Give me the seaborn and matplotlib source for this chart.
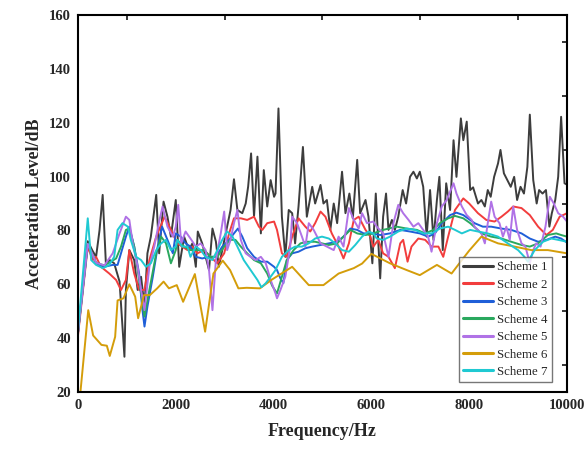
import pandas as pd
import matplotlib
matplotlib.use("Agg")
import matplotlib.pyplot as plt
import seaborn as sns
from matplotlib.ticker import MultipleLocator

sns.set_theme(style="white")
plt.rcParams['font.family'] = ['Liberation Serif', 'DejaVu Serif']

# --- data (Hz, dB) ---
f1 = [0, 100, 200, 290, 370, 440, 505, 570, 650, 740, 850, 950, 980, 1050, 1150, 1220, 1290,
      1360, 1420, 1490, 1600, 1660, 1750, 1830, 1900, 2000, 2070, 2170, 2270, 2340, 2410, 2450,
      2540, 2610, 2680, 2750, 2820, 2880, 2950, 3050, 3120, 3190, 3260, 3360, 3430, 3480, 3540,
      3600, 3670, 3740, 3800, 3870, 3940, 4010, 4040, 4100, 4170, 4240, 4310, 4380, 4440, 4510,
      4600, 4680, 4790, 4850, 4960, 5020, 5090, 5160, 5230, 5300, 5400, 5470, 5550, 5620, 5710,
      5770, 5880, 5940, 6020, 6090, 6180, 6240, 6300, 6350, 6420, 6480, 6550, 6640, 6710, 6790,
      6860, 6930, 6990, 7060, 7130, 7200, 7270, 7340, 7390, 7460, 7530, 7610, 7680, 7740, 7830,
      7880, 7950, 8020, 8080, 8180, 8250, 8320, 8380, 8440, 8510, 8590, 8640, 8710, 8780, 8850,
      8920, 8980, 9050, 9120, 9190, 9240, 9310, 9380, 9430, 9500, 9570, 9640, 9690, 9760, 9820,
      9880, 9950, 10000]
s1 = [42, 60, 76, 72.7, 70.2, 80, 93.2, 67.9, 69, 67.8, 61, 33.1, 57.9, 72.7, 69, 57.9, 62.8,
      51.7, 71.5, 77.7, 93.2, 71.5, 90.7, 85.1, 77.7, 91.3, 66.5, 77.7, 72.7, 75.2, 66.5, 79.6,
      75.2, 70.2, 65.3, 80.7, 75.9, 66.5, 72.7, 81.4, 87.6, 99, 87.6, 86.4, 90, 96.3, 108.6,
      85.1, 107.4, 78.9, 102.4, 88.9, 98.7, 92.5, 93.7, 125.3, 85.1, 70.2, 87.6, 86.4, 75.2, 88.9,
      111, 85.1, 96.2, 90, 96.9, 90, 91.3, 80.2, 90, 82.7, 101.8, 86.4, 93.7, 84.5, 106.2,
      86.4, 91.3, 85.1, 67.8, 93.7, 62.2, 85.1, 93.7, 80.2, 83.9, 80.2, 85.1, 95, 90, 99.9,
      101.8, 99.3, 101.8, 96.2, 77.7, 95, 76.5, 91.3, 99.9, 72.7, 97.5, 87.6, 113.5, 99.9, 121.6,
      113.5, 120.4, 95, 96, 90, 91.3, 88.9, 95, 92.5, 99.9, 104.9, 109.9, 101.2, 98.7, 96.2,
      99.9, 91.3, 96.2, 93.7, 103.6, 123, 98.7, 90, 95, 93.7, 95, 81.4, 86.4, 91.3, 99.9,
      122.2, 97.5, 97]

f2 = [0, 200, 300, 370, 470, 640, 780, 880, 980, 1050, 1150, 1250, 1360, 1460, 1600, 1770,
      1870, 2030, 2130, 2240, 2340, 2440, 2580, 2710, 2850, 2990, 3090, 3190, 3330, 3460, 3600,
      3700, 3770, 3870, 4010, 4070, 4170, 4270, 4380, 4510, 4650, 4750, 4850, 4960, 5060, 5190,
      5330, 5430, 5540, 5640, 5740, 5880, 5980, 6040, 6140, 6240, 6350, 6480, 6590, 6650, 6740,
      6820, 6960, 7100, 7230, 7370, 7470, 7570, 7710, 7880, 8000, 8180, 8350, 8520, 8660, 8790,
      8900, 9070, 9240, 9410, 9580, 9710, 9850, 10000]
s2 = [41, 74, 69, 70.2, 66.5, 64, 61.6, 57.9, 61.6, 72.7, 64, 57.9, 57.9, 69, 77.7, 85.1,
      81.4, 75.2, 74, 72.7, 74, 71.5, 72.7, 70.2, 67.8, 71.5, 78.9, 84.5, 84.5, 83.9, 85.1,
      81.4, 80.2, 82.7, 83.3, 80.2, 71.5, 70.2, 77.7, 84.5, 81.4, 79.6, 82.7, 87, 85.1, 78.9,
      74, 69.6, 75.2, 83.9, 85.1, 80.2, 77.7, 74, 76.5, 71.5, 70.2, 66, 75.2, 76.5, 68.4,
      74, 77, 76.5, 74, 74, 70.2, 77.7, 87.6, 91.9, 90, 86.4, 83.9, 83.3, 85.1, 87,
      88.9, 88.3, 85.7, 81.4, 78.3, 80.2, 85.1, 86.4]

f3 = [0, 200, 370, 540, 710, 810, 910, 980, 1050, 1150, 1250, 1310, 1360, 1420, 1530, 1630,
      1720, 1830, 1940, 2000, 2100, 2200, 2300, 2410, 2540, 2680, 2820, 2950, 3090, 3190, 3270,
      3360, 3460, 3600, 3740, 3870, 4010, 4070, 4140, 4200, 4270, 4380, 4510, 4650, 4790, 4960,
      5130, 5300, 5430, 5570, 5710, 5840, 6010, 6180, 6380, 6590, 6790, 6990, 7160, 7300, 7440,
      7610, 7740, 7880, 8020, 8110, 8280, 8450, 8660, 8860, 9070, 9240, 9410, 9580, 9760, 9880,
      10000]
s3 = [42, 75, 67.8, 66.5, 67.2, 67.2, 73.4, 77.7, 81.4, 74, 64, 51.7, 44.3, 51.7, 62.8, 74,
      81.4, 76.5, 71.5, 78.9, 77.7, 75.2, 74, 70.2, 69.6, 70.2, 70.2, 74, 76.5, 78.9, 80.7,
      77.7, 73.4, 70.2, 68.4, 68.4, 66.5, 65.3, 62.2, 60.4, 69, 71.5, 72.1, 73.4, 74, 74.6,
      75.2, 75.8, 77.7, 80.7, 80.2, 78.9, 78.9, 78.3, 78.9, 80.2, 79.6, 78.9, 77.7, 78.9, 82.7,
      85.7, 86.6, 85.7, 83.9, 82.7, 81.4, 81.4, 80.7, 80.2, 78.9, 77, 75.8, 76.5, 77.7, 77,
      75.5]

f4 = [0, 200, 370, 540, 780, 880, 980, 1050, 1150, 1250, 1360, 1460, 1600, 1700, 1800, 1900,
      2000, 2030, 2170, 2300, 2440, 2580, 2710, 2850, 2990, 3120, 3220, 3330, 3460, 3600, 3740,
      3870, 3970, 4070, 4170, 4270, 4410, 4550, 4680, 4850, 4990, 5130, 5300, 5430, 5570, 5710,
      5880, 6040, 6240, 6520, 6720, 6930, 7100, 7270, 7400, 7570, 7710, 7880, 8020, 8250, 8450,
      8660, 8860, 9070, 9240, 9410, 9610, 9780, 9880, 10000]
s4 = [42, 75, 68, 67, 69.6, 74, 80.2, 80.7, 74, 61.6, 48, 57.9, 71.5, 77.7, 75.2, 67.8,
      72.7, 76.5, 74, 72.7, 72.7, 72.7, 70.2, 70.2, 74, 76.5, 76.5, 74, 71.5, 69, 67.8,
      64, 59.5, 56.6, 62.8, 69, 72.7, 75.2, 75.8, 75.8, 75.2, 74.6, 75.2, 77.7, 80.2, 78.9,
      78.3, 78.9, 80.2, 81.4, 80.7, 80.2, 78.9, 80.2, 82.7, 84.5, 85.4, 84.5, 82.7, 78.9, 77.7,
      77, 75.8, 74.6, 74, 75.2, 78.3, 78.9, 78.3, 77.7]

f5 = [0, 200, 370, 540, 710, 850, 980, 1050, 1120, 1220, 1290, 1360, 1460, 1560, 1660, 1730,
      1830, 1940, 2000, 2050, 2110, 2200, 2300, 2410, 2510, 2610, 2680, 2750, 2820, 2920, 2990,
      3050, 3120, 3190, 3260, 3330, 3430, 3530, 3630, 3740, 3840, 3940, 4040, 4070, 4140, 4240,
      4340, 4380, 4480, 4580, 4650, 4720, 4820, 4960, 5090, 5230, 5330, 5430, 5540, 5640, 5740,
      5810, 5910, 6040, 6110, 6240, 6350, 6450, 6550, 6650, 6760, 6860, 6960, 7060, 7160, 7230,
      7340, 7440, 7540, 7680, 7740, 7850, 7950, 8050, 8110, 8250, 8320, 8380, 8450, 8520, 8620,
      8690, 8760, 8830, 8900, 8980, 9070, 9150, 9240, 9310, 9370, 9460, 9560, 9650, 9730, 9820,
      9920, 10000]
s5 = [42, 75, 68, 67, 71.5, 78.9, 85.1, 83.9, 75.2, 66.5, 57.9, 50.4, 66.5, 74, 83.3, 88.9,
      81.4, 77.7, 81.4, 89.5, 75.2, 79.6, 77, 74, 75.2, 72.7, 65.3, 50.4, 69, 78.9, 87,
      72.7, 76.5, 82.7, 87.6, 76.5, 71.5, 70.2, 69, 70.2, 67.8, 61.6, 56.6, 54.8, 57.9, 62.8,
      74, 85.1, 82.7, 77.7, 74, 82.7, 80.2, 75.2, 74, 72.7, 77.7, 74, 88.3, 83.9, 80.7,
      86.4, 82.7, 83.3, 81.4, 78.9, 70.2, 82.7, 89.5, 86.4, 83.9, 81.4, 82.7, 80.2, 77.7, 72.1,
      82.7, 88.9, 91.3, 97.5, 93.7, 88.9, 85.7, 83.9, 81.4, 78.9, 75.2, 82.7, 90.7, 85.1, 82.7,
      77.7, 81.4, 76.5, 88.9, 80.2, 75.2, 74, 67.8, 72.7, 75.2, 74, 81.4, 92.5, 90, 86.4,
      85.1, 83.3]

f6 = [50, 210, 310, 480, 590, 650, 760, 810, 930, 1050, 1170, 1230, 1350, 1470, 1620, 1750,
      1860, 2020, 2150, 2390, 2600, 2770, 2960, 3110, 3280, 3450, 3720, 3970, 4380, 4720, 5020,
      5330, 5640, 5810, 6000, 6380, 6720, 6990, 7340, 7640, 7850, 8000, 8250, 8590, 8930, 9270,
      9610, 10000]
s6 = [20, 50.4, 41, 37.5, 37.2, 33.4, 40.5, 54, 54.8, 60, 55.4, 47.4, 56, 56, 58.5, 61,
      58.5, 59.7, 53.5, 63.8, 42.4, 64, 68.8, 65.3, 58.5, 58.7, 58.5, 61.8, 66.5, 59.7, 59.7,
      64, 66, 67.7, 71.3, 67.8, 65.3, 63.4, 67.2, 64, 69, 72.5, 77.7, 75.2, 74, 72.7,
      72.7, 71.5]

f7 = [0, 200, 270, 370, 510, 640, 740, 810, 910, 1020, 1080, 1190, 1290, 1390, 1490, 1600,
      1700, 1800, 1900, 2000, 2030, 2130, 2240, 2300, 2410, 2510, 2610, 2750, 2850, 2950, 3050,
      3160, 3260, 3390, 3530, 3670, 3750, 3840, 3940, 4040, 4070, 4170, 4310, 4440, 4580, 4720,
      4850, 4990, 5130, 5260, 5400, 5540, 5670, 5810, 5940, 6040, 6110, 6240, 6380, 6550, 6720,
      6890, 7060, 7230, 7400, 7570, 7710, 7850, 8020, 8180, 8380, 8590, 8790, 9000, 9130, 9200,
      9340, 9510, 9680, 9820, 10000]
s7 = [43, 84.5, 69, 67.2, 66, 67.2, 70.2, 80.2, 82.7, 81.4, 76.5, 70.2, 69, 66.5, 67.8, 72.7,
      75.2, 76.5, 72.7, 74, 76.5, 74, 74, 70.2, 74, 72.7, 70.2, 69, 72.7, 76.5, 79.6,
      77.7, 74, 69, 65.3, 61.6, 58.9, 60.4, 62.8, 65.3, 66.5, 70.2, 72.7, 74, 74, 75.2,
      77, 77.7, 77, 75.2, 72.7, 72.1, 74.6, 77.7, 79.6, 78.9, 77, 76.5, 77.7, 79.6, 80.7,
      80.2, 78.9, 78.9, 80.7, 81.4, 80.2, 78.9, 80.2, 79.6, 78.9, 77.7, 75.2, 72.7, 70.2, 68.4,
      72.7, 75.8, 77, 76.5, 75.8]

names = ["Scheme 1", "Scheme 2", "Scheme 3", "Scheme 4", "Scheme 5", "Scheme 6", "Scheme 7"]
freqs = [f1, f2, f3, f4, f5, f6, f7]
levels = [s1, s2, s3, s4, s5, s6, s7]
colors = ["#3d3d3d", "#f23d3d", "#1f5fd8", "#2aa85e", "#b072e6", "#d49d0a", "#1fc9d2"]

df = pd.concat([pd.DataFrame({"freq": f, "level": s, "scheme": n})
                for f, s, n in zip(freqs, levels, names)], ignore_index=True)

fig = plt.figure(figsize=(5.85, 4.49), dpi=100)
ax = fig.add_axes([0.1333, 0.1269, 0.8359, 0.8397])

sns.lineplot(data=df, x="freq", y="level", hue="scheme", palette=colors,
             estimator=None, sort=False, linewidth=1.4, ax=ax)

ax.set_xlim(0, 10000)
ax.set_ylim(20, 160)
ax.xaxis.set_major_locator(MultipleLocator(2000))
ax.xaxis.set_minor_locator(MultipleLocator(1000))
ax.yaxis.set_major_locator(MultipleLocator(20))
ax.yaxis.set_minor_locator(MultipleLocator(10))
ax.tick_params(which="major", direction="inout", length=6, width=1.3,
               top=False, right=False, labelsize=10.5, pad=2)
ax.tick_params(which="minor", direction="in", length=3.5, width=1.3,
               top=True, right=True)
for lab in ax.get_xticklabels() + ax.get_yticklabels():
    lab.set_fontweight("bold")
for sp in ax.spines.values():
    sp.set_linewidth(1.5)
    sp.set_color("black")

ax.set_xlabel("Frequency/Hz", fontsize=13, fontweight="bold", labelpad=8)
ax.set_ylabel("Acceleration Level/dB", fontsize=13, fontweight="bold", labelpad=4)

leg = ax.legend(loc="lower right", bbox_to_anchor=(0.969, 0.027), fontsize=9.3,
                frameon=True, fancybox=False, handlelength=2.3, labelspacing=0.42,
                borderpad=0.3, handletextpad=0.35, borderaxespad=0)
leg.get_frame().set_edgecolor("#555555")
leg.get_frame().set_linewidth(1.0)
for line in leg.get_lines():
    line.set_linewidth(2.2)

fig.savefig("out.png", dpi=100)
